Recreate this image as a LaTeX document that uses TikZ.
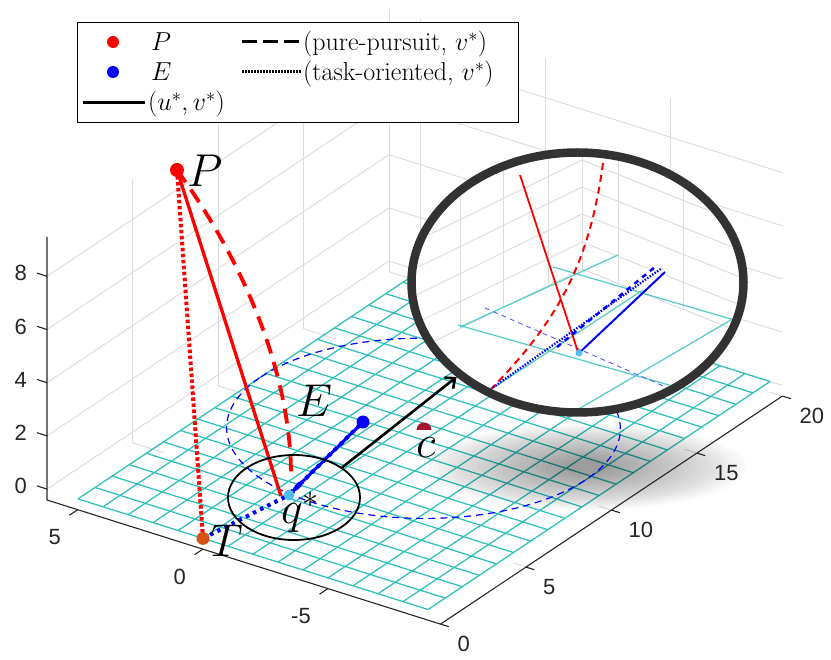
\RequirePackage{fix-cm}
\documentclass[tikz,border=0pt]{standalone}
\usepackage{fontspec}
\newfontfamily\axisfont{Liberation Sans}
\usepackage{tikz}
\usetikzlibrary{shapes.geometric,arrows.meta}

\definecolor{meshcyan}{RGB}{45,192,185}
\definecolor{torange}{RGB}{217,83,25}
\definecolor{qlight}{RGB}{77,190,238}
\definecolor{cdark}{RGB}{162,20,47}
\definecolor{ringgray}{RGB}{50,50,50}
\definecolor{axisgray}{RGB}{38,38,38}

\begin{document}
\begin{tikzpicture}[x=1pt,y=-1pt,
		wallgrid/.style={black!14, line width=0.9pt},
		meshline/.style={meshcyan, line width=1.25pt},
		axisline/.style={axisgray, line width=1.1pt},
		ticklab/.style={font=\axisfont\fontsize{22}{26}\selectfont, text=axisgray, inner sep=0pt},
		biglab/.style={font=\fontsize{46}{50}\selectfont, inner sep=0pt, anchor=base west},
		leglab/.style={font=\fontsize{26}{30}\selectfont, inner sep=0pt, anchor=base west},
		redsolid/.style={red, line width=3.3pt},
		reddash/.style={red, line width=3.8pt, dash pattern=on 15pt off 9pt},
		reddot/.style={red, line width=4pt, dash pattern=on 3.5pt off 2.5pt},
		bluesolid/.style={blue, line width=3pt},
		bluedash/.style={blue, line width=5pt, dash pattern=on 6pt off 4pt},
		bluedot/.style={blue, line width=4pt, dash pattern=on 3.5pt off 4.5pt}]
	\useasboundingbox (0,0) rectangle (831,660);

	% box grid and mesh, in plot units
	\begin{scope}[shift={(203pt,-538.4pt)}, x={(-25pt,7.9pt)}, y={(17.1pt,11.4pt)}, z={(0pt,26.6pt)}]
		\foreach \j in {5,10,15,20} {
			\draw[wallgrid] (6.24,\j,-0.4) -- (6.24,\j,9.47);
			\draw[wallgrid] (6.24,\j,-0.4) -- (5,\j,-0.4);
			\draw[wallgrid] (-9,\j,-0.4) -- (-9.5,\j,-0.4);
		}
		\foreach \i in {5,0,-5}
			\draw[wallgrid] (\i,20,0) -- (\i,20,9.47);
		\foreach \k in {0,2,4,6,8}
			\draw[wallgrid] (6.24,0,\k) -- (6.24,20,\k) -- (-9.5,20,\k);
		\foreach \i in {-9,...,5}
			\draw[meshline] (\i,0,0) -- (\i,20,0);
		\foreach \j in {0,...,20}
			\draw[meshline] (-9,\j,0) -- (5,\j,0);
	\end{scope}

	% shadow under the lens
	\foreach \s in {0,...,29}
		\fill[black, opacity=0.017] (585,467) ellipse [x radius={162pt-4.9pt*\s}, y radius={43pt-1.25pt*\s}];

	\begin{scope}[shift={(203pt,-538.4pt)}, x={(-25pt,7.9pt)}, y={(17.1pt,11.4pt)}, z={(0pt,26.6pt)}]
		\draw[blue, line width=1.2pt, dash pattern=on 7pt off 5pt] plot[domain=0:360, samples=120, smooth] ({-1.5+6.5*cos(\x)}, {10.7+6.5*sin(\x)}, 0);
	\end{scope}

	% axes
	\draw[axisline] (47,237) -- (47,500) -- (440.5,624.1) -- (782.5,396);
	\foreach \k in {0,2,4,6,8} {
		\draw[axisline] (47,{489.1-26.6*\k}) -- ++(-10,-3.2);
		\node[ticklab, anchor=east] (zt\k) at (27,{486.2-26.6*\k}) {\k};
	}
	\foreach \i/\n in {5/5,0/0,-5/m5} {
		\draw[axisline] ({203-25*\i},{549-7.9*\i}) -- ++(-8.5,5.7);
		\node[ticklab, anchor=north east] (xt\n) at ({186-25*\i},{569-7.9*\i}) {\i};
	}
	\foreach \j in {0,5,10,15,20} {
		\draw[axisline] ({440.5+17.1*\j},{624.1-11.4*\j}) -- ++(8.3,2.6);
		\node[ticklab, anchor=north west] (yt\j) at ({457.5+17.1*\j},{636.1-11.4*\j}) {\j};
	}

	\coordinate (P) at (177,170);
	\coordinate (T) at (203,538.4);
	\coordinate (qs) at (289,495);
	\coordinate (qsP) at (281,496);
	\coordinate (qsE) at (303,481);
	\coordinate (pend) at (291,472);
	\coordinate (E) at (363,422);
	\coordinate (c) at (424,430);

	\draw[reddot] (P) -- (T);
	\draw[reddash] (P) .. controls (250,270) and (290,380) .. (pend);
	\draw[redsolid] (P) -- (qsP);
	\draw[bluedot] (T) -- (qs) -- (E);
	\draw[bluedash] (qs) -- (qsE);
	\draw[bluesolid] (qs) -- (E);

	\fill[red] (P) circle (7pt);
	\fill[torange] (T) circle (6.5pt);
	\fill[blue] (E) circle (6.5pt);
	\fill[qlight] (qs) circle (5.5pt);
	\begin{scope}
		\clip (c) ++(-10,-10) rectangle ++(20,10);
		\fill[cdark] (c) circle (7.5pt);
	\end{scope}

	\node (qring) [ellipse, draw, line width=1.8pt, minimum width=132pt, minimum height=85pt, inner sep=0pt] at (294,497.5) {};

	% magnified view
	\node (lens) [ellipse, draw=ringgray, line width=8.5pt, fill=white, minimum width=332pt, minimum height=260pt, inner sep=0pt] at (577.5,282.5) {};
	\begin{scope}
		\clip (577.5,282.5) ellipse [x radius=161.5pt, y radius=125.5pt];
		\foreach \vx/\vy in {460/329,503/308,548/286,582/269,618/283,683/309}
			\draw[wallgrid] (\vx,100) -- (\vx,\vy);
		\foreach \cy in {160,187,214,242,269}
			\draw[wallgrid] (400,\cy+89) -- (582,\cy) -- (760,\cy+71);
		\draw[meshline, meshcyan!80] (458,325) -- (690,391);
		\draw[meshline, meshcyan!80] (553,267) -- (748,324);
		\draw[meshline, meshcyan!80] (487,392) -- (643,290);
		\draw[meshline, meshcyan!80] (577,410) -- (748,310);
		\draw[meshline, meshcyan!80] (460,327) -- (618,255);
		\draw[blue!65, line width=0.9pt, dash pattern=on 5pt off 4pt] (485,308) -- (668,388);
		\draw[red, line width=1.8pt] (520,175) -- (578,352);
		\draw[red, line width=2pt, dash pattern=on 7pt off 5pt] (603,163) .. controls (590,260) and (560,320) .. (488,392);
		\draw[blue, line width=2.2pt, dash pattern=on 1.5pt off 1.5pt] (488,391) -- (662,268);
		\draw[blue, line width=2.5pt, dash pattern=on 5pt off 5pt] (557,347) -- (655,267);
		\draw[blue, line width=2pt] (579,353) -- (665,272);
		\fill[qlight] (579,353) circle (3.5pt);
	\end{scope}
	\draw[line width=2.6pt, -{Straight Barb[length=8pt, width=14pt]}] (qring.32) -- (lens.218);

	\node[biglab] (Plab) at (187,187) {$P$};
	\node[biglab] (Elab) at (296,417) {$E$};
	\node[biglab] (Tlab) at (210,557) {$T$};
	\node[biglab] (qlab) at (281,524) {$q^*$};
	\node[biglab] (clab) at (416,458) {$c$};

	% legend
	\draw[line width=1pt, fill=white] (77,23) rectangle (518,123);
	\fill[red] (113,42) circle (6pt);
	\node[leglab] (legP) at (151,51) {$P$};
	\fill[blue] (113,72) circle (6pt);
	\node[leglab] (legE) at (151,81) {$E$};
	\draw[line width=3pt] (83,103) -- (145,103);
	\node[leglab] (legUV) at (148,111) {$(u^*,v^*)$};
	\draw[line width=3pt, dash pattern=on 15pt off 6pt] (242,42) -- (300,42);
	\node[leglab] (legPP) at (303,51) {(pure-pursuit, $v^*$)};
	\draw[line width=3pt, dash pattern=on 1.5pt off 1.5pt] (242,72) -- (302,72);
	\node[leglab] (legTO) at (303,81) {(task-oriented, $v^*$)};
\end{tikzpicture}
\end{document}
